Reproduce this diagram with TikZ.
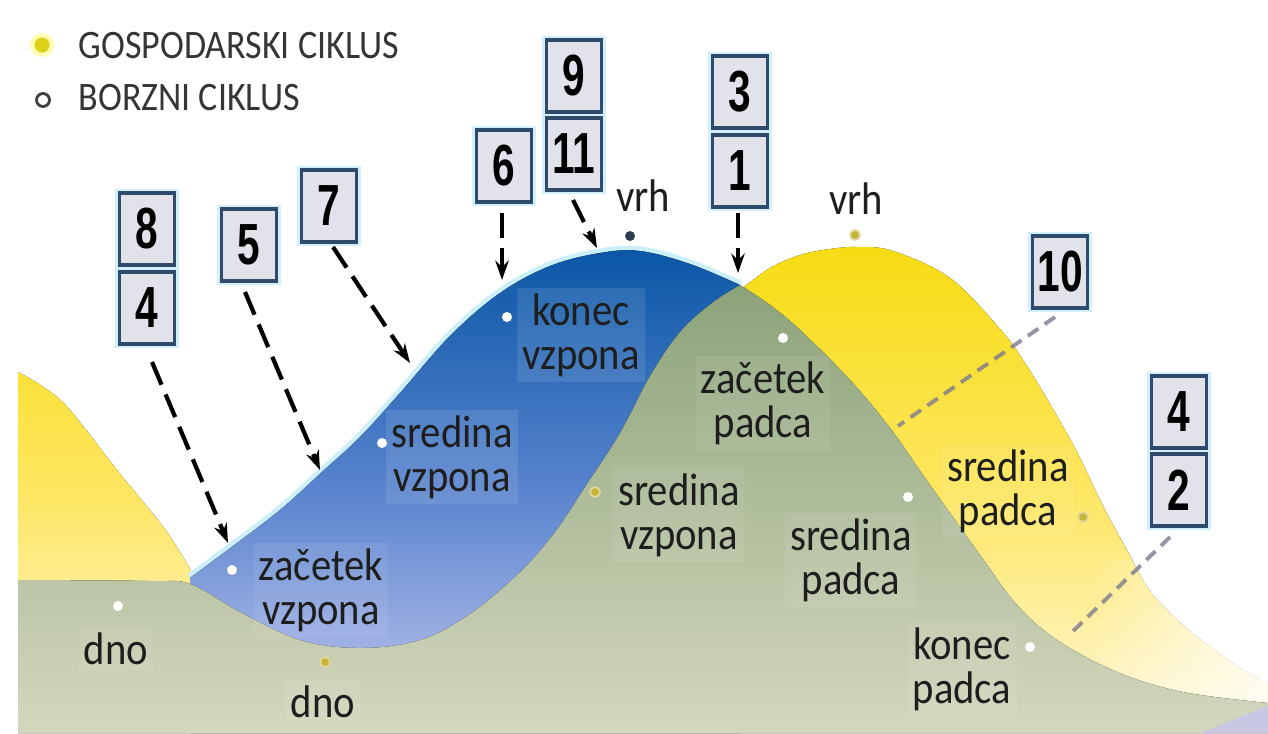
\documentclass[tikz,border=0pt]{standalone}
\usepackage{fontspec}
\setmainfont{Carlito}[FakeStretch=0.89]
\newfontfamily\digitfont{Liberation Sans}[FakeStretch=0.7]
\usetikzlibrary{arrows.meta,fadings}
\definecolor{boxfill}{HTML}{E2E2EA}
\definecolor{boxline}{HTML}{2F4A6A}
\definecolor{txt}{HTML}{1E1E1E}
\definecolor{ydot}{HTML}{C4B43A}
\definecolor{legy}{HTML}{DCD21A}
\definecolor{greytrace}{HTML}{7E7A8C}
\definecolor{Yone}{HTML}{F6DC12}
\definecolor{Ytwo}{HTML}{FDE660}
\definecolor{Ythree}{HTML}{FFF8DC}
\definecolor{Bone}{HTML}{0A57A6}
\definecolor{Btwo}{HTML}{5A84CE}
\definecolor{Bthree}{HTML}{C6CAF0}
\definecolor{Gone}{HTML}{8CA37A}
\definecolor{Gtwo}{HTML}{D4D7BE}
\definecolor{lav}{HTML}{C4C4EC}
\definecolor{vrhdot}{HTML}{2C3E50}
\tikzfading[name=fadeR, left color=transparent!100, right color=transparent!25]
\tikzset{
  numbox/.style={draw=boxline, line width=0.9pt, fill=boxfill, minimum width=0.55cm,
    minimum height=0.72cm, inner sep=0pt, text=black,
    font=\digitfont\bfseries\fontsize{16.5}{16.5}\selectfont,
    preaction={draw=cyan!18, line width=2.4pt}},
  lbl/.style={align=center, text=txt, font=\fontsize{13}{12.6}\selectfont,
    fill=white, fill opacity=0.07, text opacity=1, inner xsep=1.5pt, inner ysep=1.5pt},
  ptr/.style={line width=1.2pt, dash pattern=on 7pt off 3pt, black,
    -{Stealth[length=5.5pt,width=3.8pt]}},
  trace/.style={line width=1.1pt, dash pattern=on 3.6pt off 2.2pt, greytrace, opacity=0.8},
  bdot/.style={circle, fill=white, inner sep=0pt, minimum size=0.1cm},
  gdot/.style={circle, fill=ydot, draw=ydot!50!white, line width=0.5pt, inner sep=0pt, minimum size=0.1cm},
  legtext/.style={anchor=west, font=\fontsize{11.5}{12}\selectfont, text=txt!90, inner sep=0pt}
}
\begin{document}
\begin{tikzpicture}[x=0.01cm,y=-0.01cm]
\fill[white] (0,0) rectangle (1268,733);
\useasboundingbox (0,0) rectangle (1268,733);

% gospodarski (yellow) wave
\fill[top color=Yone, bottom color=Ythree, middle color=Ytwo]
  plot[smooth,tension=0.6] coordinates {(18,372) (45,388) (70,410) (117,470) (167,532) (195,578)}
  -- (740,290)
  -- plot[smooth,tension=0.6] coordinates {(740,290) (770,268) (800,255) (830,249) (857,247) (893,251) (950,278) (1000,329) (1023,360) (1050,404) (1077,452) (1103,506) (1127,550) (1150,591) (1183,625) (1217,652) (1250,674) (1268,682)}
  -- (1268,733) -- (18,733) -- cycle;
\fill[white, path fading=fadeR] (1090,560) rectangle (1268,733);

% borzni (blue) wave
\draw[white!80!cyan, line width=2.6pt]
  plot[smooth,tension=0.6] coordinates {(190,578) (233,546) (280,510) (322,472) (360,437) (400,393) (450,336) (500,293) (550,266) (600,253) (640,251) (690,264) (740,285)};
\fill[top color=Bone, bottom color=Bthree, middle color=Btwo]
  plot[smooth,tension=0.6] coordinates {(190,578) (233,546) (280,510) (322,472) (360,437) (400,393) (450,336) (500,293) (550,266) (600,253) (640,251) (690,264) (740,285)}
  -- (740,733) -- (190,733) -- cycle;

% green ground
\fill[top color=Gone, bottom color=Gtwo]
  plot[smooth,tension=0.6] coordinates {(18,580) (150,581) (190,584) (240,612) (300,640) (360,648) (420,640) (470,614) (520,572) (555,532) (585,487) (620,433) (650,376) (680,332) (712,303) (740,285)}
  -- plot[smooth,tension=0.6] coordinates {(740,285) (770,305) (800,330) (850,380) (890,428) (925,478) (955,520) (985,562) (1017,605) (1057,640) (1117,672) (1183,692) (1268,703)}
  -- (1268,733) -- (18,733) -- cycle;
\fill[lav, opacity=0.8] (1200,733) .. controls (1230,722) and (1250,712) .. (1268,706) -- (1268,733) -- cycle;

% legend
\fill[yellow!30!white] (42,45) circle[radius=0.12cm];
\node[circle, fill=legy, inner sep=0pt, minimum size=0.15cm] (ly) at (42,45) {};
\node[legtext] (lgt) at (78,46) {GOSPODARSKI CIKLUS};
\node[circle, draw=txt!85, line width=0.8pt, fill=white, inner sep=0pt, minimum size=0.13cm] (lb) at (43,100) {};
\node[legtext] (lbt) at (78,98) {BORZNI CIKLUS};

% labels
\node[lbl] (Ldnoa) at (116,649) {dno};
\node[lbl] (Lzv) at (321,590) {začetek\\vzpona};
\node[lbl] (Ldnob) at (323,702) {dno};
\node[lbl, fill opacity=0.1] (Lsva) at (452,457) {sredina\\vzpona};
\node[lbl, fill opacity=0.1] (Lkv) at (581,335) {konec\\vzpona};
\node[lbl] (Lvrha) at (643,196) {vrh};
\node[lbl] (Lvrhb) at (856,199) {vrh};
\node[lbl] (Lzp) at (763,403) {začetek\\padca};
\node[lbl] (Lsvb) at (679,515) {sredina\\vzpona};
\node[lbl] (Lspa) at (851,560) {sredina\\padca};
\node[lbl] (Lspb) at (1008,491) {sredina\\padca};
\node[lbl] (Lkp) at (962,669) {konec\\padca};

% borzni points
\node[bdot] (pa) at (118,606) {};
\node[bdot] (pb) at (232,570) {};
\node[bdot] (pc) at (382,443) {};
\node[bdot] (pd) at (507,317) {};
\node[bdot, fill=vrhdot] (pe) at (630,236) {};
\node[bdot] (pf) at (783,338) {};
\node[bdot] (pg) at (908,497) {};
\node[bdot] (ph) at (1030,647) {};
% gospodarski points
\node[gdot] (qa) at (325,662) {};
\node[gdot] (qb) at (595,492) {};
\node[gdot] (qc) at (855,235) {};
\node[gdot] (qd) at (1083,517) {};

% number boxes
\node[numbox] (n9) at (574,76) {9};
\node[numbox] (n11) at (574,154) {11};
\node[numbox] (n6) at (504,166) {6};
\node[numbox] (n3) at (740,92) {3};
\node[numbox] (n1) at (740,171) {1};
\node[numbox] (n8) at (147,229) {8};
\node[numbox] (n4a) at (147,308) {4};
\node[numbox] (n5) at (249,245) {5};
\node[numbox] (n7) at (329,206) {7};
\node[numbox] (n10) at (1060,272) {10};
\node[numbox] (n4b) at (1179,412) {4};
\node[numbox] (n2) at (1179,490) {2};

% connector ends
\coordinate (s84) at (152,362); \coordinate (t84) at (228,543);
\coordinate (s5) at (245,292);  \coordinate (t5) at (320,470);
\coordinate (s7) at (333,247);  \coordinate (t7) at (410,363);
\coordinate (s6) at (502,213);  \coordinate (t6) at (502,280);
\coordinate (s11) at (573,200); \coordinate (t11) at (597,248);
\coordinate (s1) at (738,213);  \coordinate (t1) at (738,273);
\coordinate (s10) at (1055,317); \coordinate (t10) at (898,426);
\coordinate (s2) at (1170,537); \coordinate (t2) at (1070,634);

\draw[ptr] (s84) -- (t84);
\draw[ptr] (s5) -- (t5);
\draw[ptr] (s7) -- (t7);
\draw[ptr] (s6) -- (t6);
\draw[ptr] (s11) -- (t11);
\draw[ptr] (s1) -- (t1);
\draw[trace] (s10) -- (t10);
\draw[trace] (s2) -- (t2);
\end{tikzpicture}
\end{document}
